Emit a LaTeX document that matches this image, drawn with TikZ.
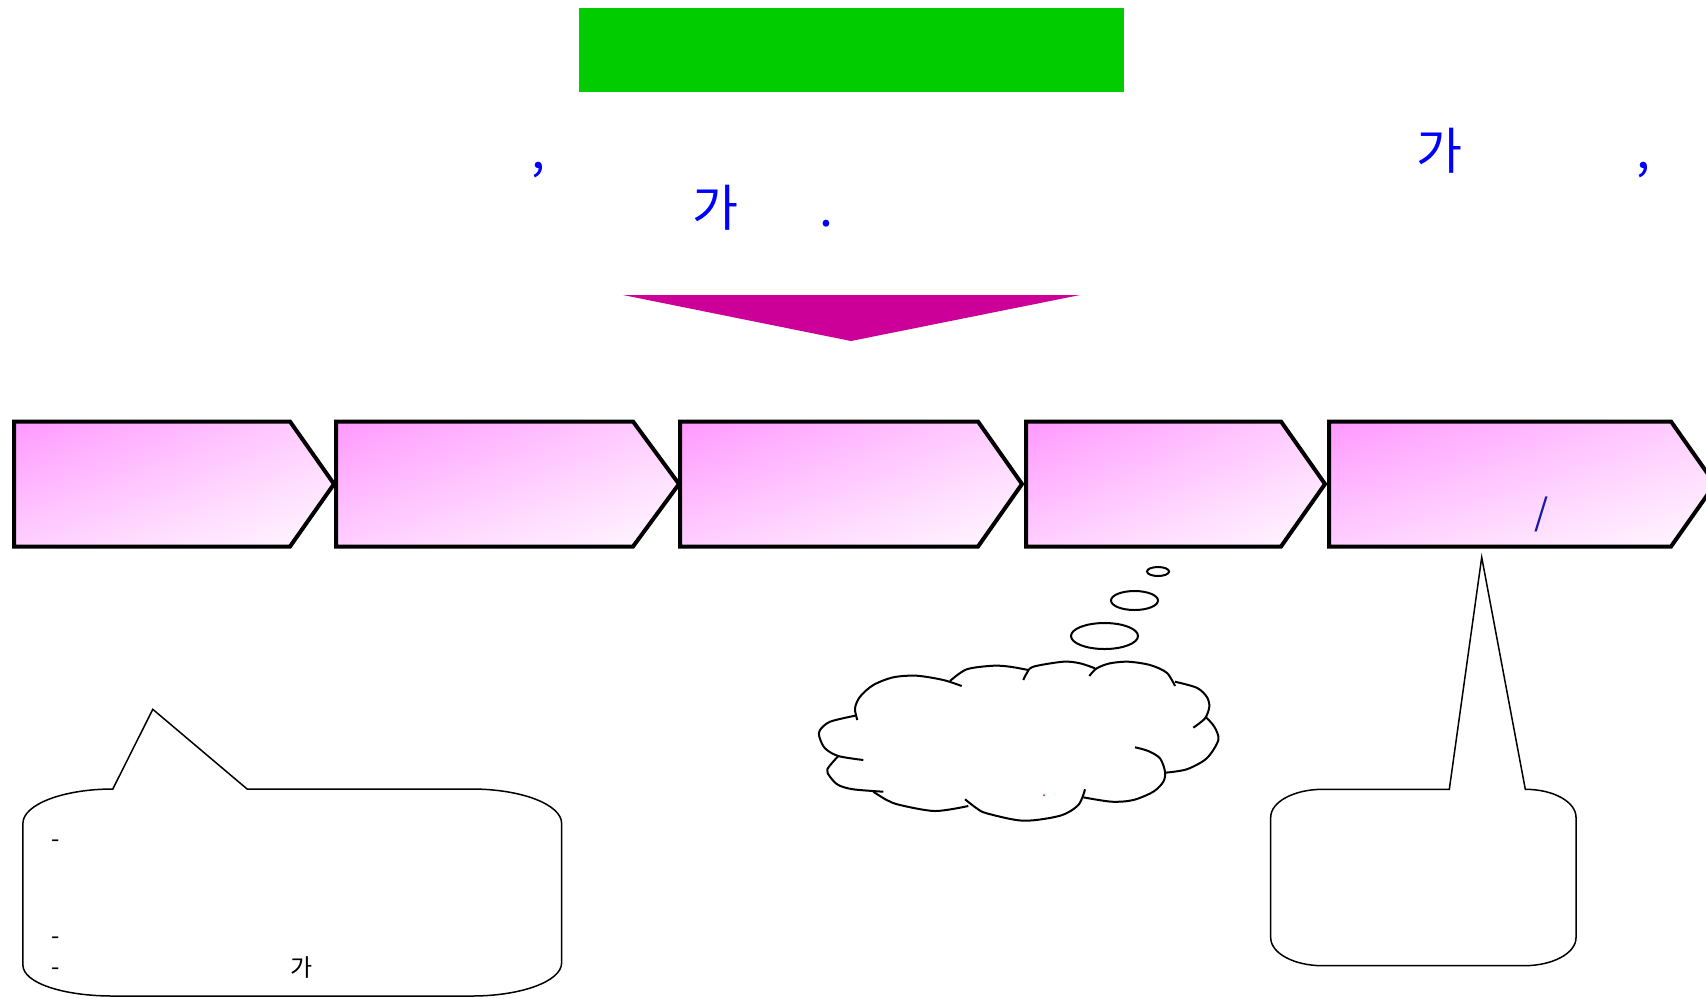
\documentclass[tikz,border=0pt]{standalone}
\usepackage{fontspec}
\usetikzlibrary{shadings}
\newfontfamily\kr{Noto Sans CJK KR}
\definecolor{grn}{HTML}{00CC00}
\definecolor{mag}{HTML}{CC0099}
\definecolor{chevpink}{HTML}{FF99FF}
\definecolor{chevmid}{HTML}{FFCFFF}
\definecolor{chevlight}{HTML}{FFF9FF}
\definecolor{navyblue}{HTML}{1A1AA6}
\tikzset{
  chev/.style={upper left=chevpink, upper right=chevmid, lower left=chevmid, lower right=chevlight, draw=black, line width=2pt, line join=miter},
  bubble/.style={draw=black, line width=0.75pt, fill=white, line join=miter},
  cloudline/.style={draw=black, line width=1pt},
  bigtxt/.style={font=\kr\fontsize{25}{30}\selectfont, text=blue, inner sep=0pt, anchor=base west},
  smalltxt/.style={font=\kr\fontsize{12}{14}\selectfont, text=black, inner sep=0pt, anchor=base west}
}
\newcommand\chevronshape[3]{%
  \shadedraw[chev] (#1,421.5) -- (#2,421.5) -- (#3,484) -- (#2,546.5) -- (#1,546.5) -- cycle;}
\begin{document}
\begin{tikzpicture}[x=0.5pt,y=-0.5pt]
\useasboundingbox (0,0) rectangle (1706,998);
\clip (0,0) rectangle (1706,998);
% title bar
\fill[grn] (579,7.5) rectangle (1124,91.5);
% blue text
\node[bigtxt] (c1) at (531,168) {,};
\node[bigtxt] (g1) at (1416,169) {가};
\node[bigtxt] (c2) at (1636,168) {,};
\node[bigtxt] (g2) at (692,226) {가};
\node[bigtxt] (p1) at (819,226) {.};
% triangle
\fill[mag] (623,295) -- (1080,295) -- (851,341) -- cycle;
% chevrons
\chevronshape{14}{290}{334}
\chevronshape{336}{633}{679}
\chevronshape{680}{978}{1022}
\chevronshape{1026}{1281}{1325}
\chevronshape{1329}{1671}{1715}
\node[font=\kr\fontsize{18}{20}\selectfont, text=navyblue, inner sep=0pt, anchor=base west] (sl) at (1534,525) {/};
% thought bubbles
\draw[cloudline] (1158,571.5) ellipse [x radius=11, y radius=4.5];
\draw[cloudline] (1134.5,600.5) ellipse [x radius=23.5, y radius=9.5];
\draw[cloudline] (1104.5,636) ellipse [x radius=33.5, y radius=13];
% cloud
\draw[cloudline] plot[smooth] coordinates {(961.7,686) (943.3,680) (916.7,675.7) (893.3,677.3) (873.3,685) (860,696.7) (855,708.3) (857.3,720)};
\draw[cloudline] plot[smooth] coordinates {(855,715.7) (830,721.7) (820,730) (819.3,736.7) (825,748.3) (838.3,756) (863.3,760)};
\draw[cloudline] plot[smooth] coordinates {(838.3,756) (827.3,769.3) (830,776.7) (838.3,785) (853.3,789.3) (883.3,791.7)};
\draw[cloudline] plot[smooth] coordinates {(873.3,791.7) (886.7,800) (900,805) (935,811) (968.3,806)};
\draw[cloudline] plot[smooth] coordinates {(965,799.3) (976.7,808.3) (986.7,813.3) (1023.3,820.7) (1060,815.7) (1078.3,805) (1085,789.3)};
\draw[cloudline] plot[smooth] coordinates {(1083.3,797.3) (1111.7,801.7) (1133.3,800) (1153.3,791.7) (1163.3,781.7) (1165,771.7) (1160,758.3) (1148.3,751) (1135,747.3)};
\draw[cloudline] plot[smooth] coordinates {(1165,772.7) (1186.7,769.3) (1206.7,758.3) (1218.3,740) (1214.3,726.7) (1206,717.3)};
\draw[cloudline] plot[smooth] coordinates {(1175,681.7) (1196.7,687.7) (1206.7,696.7) (1209.3,706.7) (1205,718.3) (1193.3,727.7)};
\draw[cloudline] plot[smooth] coordinates {(1089.3,676) (1096.7,668.3) (1110,663.3) (1128.3,661.7) (1150,665) (1166.7,672.7) (1175,686)};
\draw[cloudline] plot[smooth] coordinates {(1095,668.3) (1080,663.3) (1063.3,661.7) (1033.3,666.7) (1026.7,673.3) (1023.3,680)};
\draw[cloudline] plot[smooth] coordinates {(1028.3,670) (1010,666.7) (993.3,665.7) (966.7,669.3) (950,681)};
\node[font=\kr\fontsize{7}{8}\selectfont, text=red, inner sep=0pt, anchor=base] (rd) at (1044,796) {.};
% left speech bubble
\draw[bubble] (112.8,789) -- (152.8,709.3) -- (247.1,789) -- (471.7,789)
  .. controls (521.3,789) and (561.6,804.5) .. (561.6,823.3) -- (561.6,963)
  .. controls (561.6,981.2) and (521.3,996) .. (471.7,996) -- (112.8,996)
  .. controls (63.2,996) and (22.9,982.9) .. (22.9,965) -- (22.9,823.3)
  .. controls (22.9,804.5) and (63.2,789) .. (112.8,789) -- cycle;
\node[smalltxt] (d1) at (51,847) {-};
\node[smalltxt] (d2) at (51,944) {-};
\node[smalltxt] (d3) at (51,975) {-};
\node[smalltxt] (g3) at (290,976) {가};
% right speech bubble
\draw[bubble] (1449.3,789.3) -- (1481.7,557.3) -- (1525.3,789.3)
  .. controls (1553.3,789.3) and (1576,801.8) .. (1576,817.3) -- (1576,937.7)
  .. controls (1576,953.2) and (1552.7,965.7) .. (1524,965.7) -- (1322.7,965.7)
  .. controls (1294,965.7) and (1270.7,953.2) .. (1270.7,937.7) -- (1270.7,817.3)
  .. controls (1270.7,801.8) and (1294,789.3) .. (1322.7,789.3) -- cycle;
\end{tikzpicture}
\end{document}
